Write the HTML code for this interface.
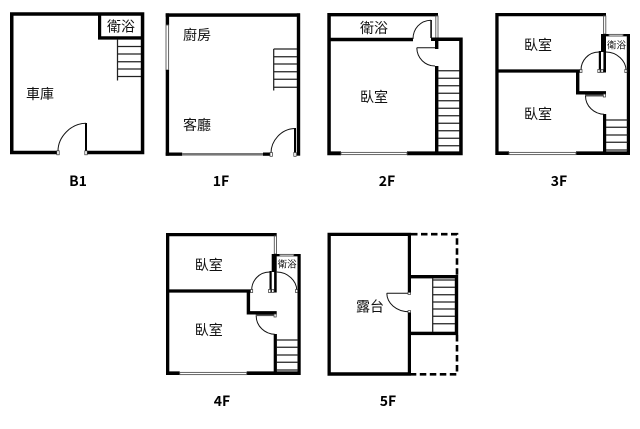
<!DOCTYPE html>
<html><head><meta charset="utf-8">
<style>
html,body{margin:0;padding:0;background:#fff}
svg{display:block}
text{font-family:"Liberation Sans","Noto Sans CJK TC",sans-serif;fill:#111;text-anchor:middle;dominant-baseline:central}
.r{font-size:14px}
.s{font-size:9.5px}
.l{font-family:"Noto Sans CJK TC",sans-serif;font-size:14px;font-weight:700;fill:#000}
.t{stroke:#222;stroke-width:1.25;fill:none}
.d{stroke:#111;stroke-width:1;fill:none}
.h{fill:#fff;stroke:#333;stroke-width:.7}
.g{fill:#fff;stroke:#555;stroke-width:.9}
</style></head><body>
<svg width="640" height="429" viewBox="0 0 640 429" xmlns="http://www.w3.org/2000/svg">
<!-- B1 -->
<g>
<path d="M10 12.3H144.3V154.3H87V150.8H140.8V15.8H13.5V150.8H57V154.3H10Z" fill="#000"/>
<path d="M98 14H101.2V36.3H142V39.6H98Z" fill="#000"/>
<path class="t" d="M117.5 39V80.5M117.5 46.5H141M117.5 54H141M117.5 61.8H141M117.5 69H141M117.5 76.5H141"/>
<rect x="85" y="123" width="2" height="30" fill="#000"/>
<path class="d" d="M86 123.2C71 123.2 58 137 58 151"/>
<rect class="h" x="56.8" y="150.8" width="2.4" height="4"/><rect class="h" x="84.8" y="150.8" width="2.4" height="4"/>
<text class="r" x="40" y="94">車庫</text>
<text class="r" x="121" y="26.5">衛浴</text>
<text class="l" x="78" y="181">B1</text>
</g>
<!-- 1F -->
<g>
<rect x="165.7" y="13.3" width="134.3" height="3.5" fill="#000"/>
<rect x="296.8" y="13.3" width="3.4" height="142.4" fill="#000"/>
<rect x="165.7" y="13.3" width="3.4" height="12" fill="#000"/>
<rect class="g" x="166" y="25" width="2.6" height="45"/>
<rect x="165.7" y="70" width="3.4" height="85.7" fill="#000"/>
<rect x="165.7" y="152.5" width="16.5" height="3.3" fill="#000"/>
<rect x="182" y="153" width="81" height="2.6" fill="#777"/>
<rect x="263" y="152.5" width="7" height="3.3" fill="#000"/>
<path class="t" d="M273.7 49V90.5M273.7 49H297M273.7 56.7H297M273.7 64H297M273.7 71.7H297M273.7 79.3H297M273.7 87.3H297"/>
<rect x="294" y="128" width="2" height="25" fill="#000"/>
<path class="d" d="M294.5 128.5C281 129 271 141 271 153"/>
<rect class="h" x="270" y="152.5" width="2.4" height="3.8"/><rect class="h" x="293.8" y="152.5" width="2.4" height="3.8"/>
<text class="r" x="197" y="35">廚房</text>
<text class="r" x="197" y="125">客廳</text>
<text class="l" x="221" y="181">1F</text>
</g>
<!-- 2F -->
<g>
<path d="M327.3 13H438V16.4H330.8V37.8H413V41.3H330.8V151.4H341V155.2H327.3Z" fill="#000"/>
<rect class="g" x="435.8" y="16" width="2.2" height="22"/>
<path d="M431 37.5H462.7V155.2H407V151.4H459.2V41H438.4V49H435V41H431Z" fill="#000"/>
<rect x="435" y="66" width="3.4" height="87" fill="#000"/>
<rect x="341" y="152.4" width="66" height="2.2" class="g"/>
<rect x="430.3" y="20" width="1.6" height="18" fill="#111"/>
<path class="d" d="M431 20.2C420 20.5 413 29 413 39"/>
<path class="d" d="M416.8 47.7H435M416.8 47.7C417 58 425 66 435 66"/>
<path class="t" d="M438 70.7H459.5M438 78.2H459.5M438 85.7H459.5M438 93.3H459.5M438 100.7H459.5M438 108.3H459.5M438 115.7H459.5M438 123.3H459.5M438 130.7H459.5M438 138.3H459.5M438 145.7H459.5"/>
<text class="r" x="374" y="28">衛浴</text>
<text class="r" x="374" y="97">臥室</text>
<text class="l" x="387" y="181">2F</text>
</g>
<!-- 3F -->
<g>
<path d="M495.3 13H606V16.2H498.6V69.4H580V72.6H498.6V151.4H509V155H495.3Z" fill="#000"/>
<rect class="g" x="603.6" y="16" width="2.2" height="18"/>
<path d="M600.8 34H630V155H576V151.4H626.8V36.4H606V72.5H603.4V52H601V34Z" fill="#000"/>
<rect x="598.8" y="51" width="2.2" height="21.5" fill="#000"/>
<rect class="g" x="609" y="34.4" width="14" height="1.6"/>
<path d="M576 71H579.4V91.1H606V94.5H576Z" fill="#000"/>
<rect x="585" y="94.5" width="18" height="2" fill="#555"/>
<rect x="603" y="114" width="3.2" height="39" fill="#000"/>
<rect x="509" y="152.4" width="67" height="2.2" class="g"/>
<path class="d" d="M599 52C588 52 581 61 581 70M606 52C617 52 626 61 626 70M585.5 96C585.5 106 594 114 604 114.3"/>
<rect class="h" x="579.8" y="69.5" width="2.2" height="3"/><rect class="h" x="597.8" y="69.5" width="2.2" height="3"/><rect class="h" x="601" y="69.5" width="2.2" height="3"/><rect class="h" x="624.8" y="69.5" width="2.2" height="3"/><rect class="h" x="603.3" y="94" width="2.2" height="3"/>
<path class="t" d="M606 120H627.5M606 127.3H627.5M606 135H627.5M606 142.3H627.5M606 150H627.5"/>
<text class="r" x="538" y="45">臥室</text>
<text class="r" x="538" y="114">臥室</text>
<text class="s" x="616.5" y="46">衛浴</text>
<text class="l" x="559" y="181">3F</text>
</g>
<!-- 4F -->
<g transform="translate(-329.3 220)">
<path d="M495.3 13H606V16.2H498.6V69.4H580V72.6H498.6V151.4H509V155H495.3Z" fill="#000"/>
<rect class="g" x="603.6" y="16" width="2.2" height="18"/>
<path d="M600.8 34H630V155H576V151.4H626.8V36.4H606V72.5H603.4V52H601V34Z" fill="#000"/>
<rect x="598.8" y="51" width="2.2" height="21.5" fill="#000"/>
<rect class="g" x="609" y="34.4" width="14" height="1.6"/>
<path d="M576 71H579.4V91.1H606V94.5H576Z" fill="#000"/>
<rect x="585" y="94.5" width="18" height="1.6" fill="#555"/>
<rect x="603" y="114" width="3.2" height="39" fill="#000"/>
<rect x="509" y="152.4" width="67" height="2.2" class="g"/>
<path class="d" d="M599 52C588 52 581 61 581 70M606 52C617 52 626 61 626 70M585.5 96C585.5 106 594 114 604 114.3"/>
<rect class="h" x="579.8" y="69.5" width="2.2" height="3"/><rect class="h" x="597.8" y="69.5" width="2.2" height="3"/><rect class="h" x="601" y="69.5" width="2.2" height="3"/><rect class="h" x="624.8" y="69.5" width="2.2" height="3"/><rect class="h" x="603.3" y="94" width="2.2" height="3"/>
<path class="t" d="M606 120H627.5M606 127.3H627.5M606 135H627.5M606 142.3H627.5M606 150H627.5"/>
<text class="r" x="538" y="45">臥室</text>
<text class="r" x="538" y="110">臥室</text>
<text class="s" x="616.5" y="45">衛浴</text>
</g>
<text class="l" x="222" y="401">4F</text>
<!-- 5F -->
<g>
<path d="M327.5 232.7H411V293H407.8V236H330.8V372.2H407.8V311.5H411V375.7H327.5Z" fill="#000"/>
<rect x="411" y="275" width="47" height="3.4" fill="#000"/>
<rect x="411" y="331.7" width="47" height="3.4" fill="#000"/>
<rect x="454.8" y="275" width="3.4" height="60" fill="#000"/>
<path d="M411 234.2H457V275M457 335V374.3H411" fill="none" stroke="#000" stroke-width="2.6" stroke-dasharray="6.5 3.5"/>
<path class="t" d="M432.7 278V332M433 280H455M433 287.3H455M433 294.7H455M433 302H455M433 309H455M433 316.3H455M433 323.7H455"/>
<path class="d" d="M386.8 293.3H409M386.8 293.3C387 303 396 311.7 409 311.7"/>
<rect class="h" x="408" y="292.4" width="2.6" height="2"/><rect class="h" x="408" y="310.6" width="2.6" height="2"/>
<text class="r" x="370" y="306.5">露台</text>
<text class="l" x="388" y="401">5F</text>
</g>
</svg>
</body></html>
